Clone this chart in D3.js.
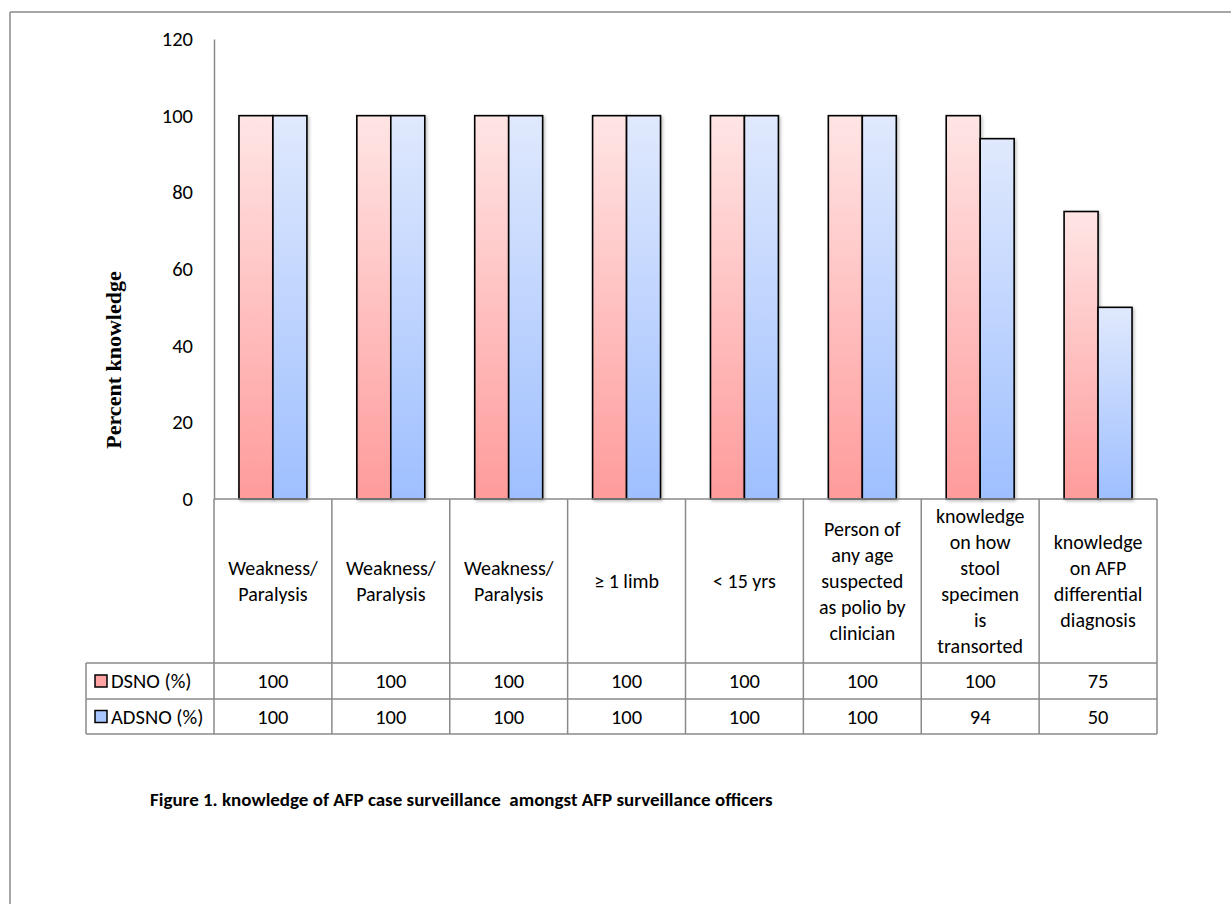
<!DOCTYPE html>
<html>
<head>
<meta charset="utf-8">
<script src="https://cdn.jsdelivr.net/npm/d3@7"></script>
<style>
  html, body { margin: 0; padding: 0; background: #fff; }
  svg { display: block; }
</style>
</head>
<body>
<svg id="chart" width="1231" height="904"></svg>
<script>
// ---- data ----
const categories = [
  ["Weakness/", "Paralysis"],
  ["Weakness/", "Paralysis"],
  ["Weakness/", "Paralysis"],
  ["\u2265 1 limb"],
  ["< 15 yrs"],
  ["Person of", "any age", "suspected", "as polio by", "clinician"],
  ["knowledge", "on how", "stool", "specimen", "is", "transorted"],
  ["knowledge", "on AFP", "differential", "diagnosis"]
];
const seriesNames = ["DSNO (%)", "ADSNO (%)"];
const dsno  = [100, 100, 100, 100, 100, 100, 100, 75];
const adsno = [100, 100, 100, 100, 100, 100, 94, 50];
const yTicks = [0, 20, 40, 60, 80, 100, 120];
const yTitle = "Percent knowledge";
const caption = "Figure 1. knowledge of AFP case surveillance\u00a0 amongst AFP surveillance officers";

// ---- layout ----
const svg = d3.select("#chart");
const plotLeft = 214, plotRight = 1157, plotTop = 39, plotBottom = 499;
const headerBottom = 663, row1Bottom = 699, row2Bottom = 734, tableLeft = 86;
const font = "Carlito, Lato, 'Open Sans', sans-serif";
const gridColor = "#8a8a8a";

const seriesData = [dsno, adsno];
const idx = d3.range(categories.length);

const x0 = d3.scaleBand().domain(idx).range([plotLeft, plotRight]).paddingInner(0).paddingOuter(0);
const x1 = d3.scaleBand().domain([0, 1]).range([0, x0.bandwidth()]).paddingInner(0).paddingOuter(0.735);
const y = d3.scaleLinear().domain([0, 120]).range([plotBottom, plotTop]);

// gradients & shadow
const defs = svg.append("defs");
const grads = [
  { id: "gRed", top: "#ffe5e5", bottom: "#ff9b9b" },
  { id: "gBlue", top: "#e0e9fd", bottom: "#9ebfff" }
];
grads.forEach(g => {
  const lg = defs.append("linearGradient").attr("id", g.id)
    .attr("x1", 0).attr("y1", 0).attr("x2", 0).attr("y2", 1);
  lg.append("stop").attr("offset", "0%").attr("stop-color", g.top);
  lg.append("stop").attr("offset", "100%").attr("stop-color", g.bottom);
});
const f = defs.append("filter").attr("id", "shadow").attr("x", "-20%").attr("y", "-5%").attr("width", "150%").attr("height", "115%");
f.append("feDropShadow").attr("dx", 1.5).attr("dy", 1.5).attr("stdDeviation", 1.5)
  .attr("flood-color", "#000").attr("flood-opacity", 0.25);

// outer frame (clipped at right/bottom)
svg.append("line").attr("x1", 10).attr("y1", 12).attr("x2", 1231).attr("y2", 12)
  .attr("stroke", gridColor).attr("stroke-width", 1.5);
svg.append("line").attr("x1", 10).attr("y1", 12).attr("x2", 10).attr("y2", 904)
  .attr("stroke", gridColor).attr("stroke-width", 1.5);

// y axis
const yAxis = d3.axisLeft(y).tickValues(yTicks).tickSize(0).tickPadding(21);
const gy = svg.append("g").attr("transform", `translate(${plotLeft},0)`).call(yAxis);
gy.select(".domain").attr("stroke", gridColor).attr("stroke-width", 1.5);
gy.selectAll("text").attr("font-family", font).attr("font-size", 20.5).attr("fill", "#000");

// y title
svg.append("text")
  .attr("transform", `translate(121,360) rotate(-90)`)
  .attr("text-anchor", "middle")
  .attr("font-family", "'Liberation Serif', 'Times New Roman', serif")
  .attr("font-weight", "bold").attr("font-size", 22)
  .attr("fill", "#000")
  .text(yTitle);

// bars
const fills = ["url(#gRed)", "url(#gBlue)"];
seriesData.forEach((vals, s) => {
  svg.append("g").selectAll("rect").data(vals).join("rect")
    .attr("x", (d, i) => x0(i) + x1(s))
    .attr("y", d => y(d))
    .attr("width", x1.bandwidth())
    .attr("height", d => y(0) - y(d))
    .attr("fill", fills[s])
    .attr("stroke", "#000").attr("stroke-width", 1.6)
    .attr("filter", "url(#shadow)");
});

// data table
const tg = svg.append("g").attr("stroke", gridColor).attr("stroke-width", 1.5);
tg.append("line").attr("x1", plotLeft).attr("x2", plotRight).attr("y1", plotBottom).attr("y2", plotBottom);
[headerBottom, row1Bottom, row2Bottom].forEach(yy =>
  tg.append("line").attr("x1", tableLeft).attr("x2", plotRight).attr("y1", yy).attr("y2", yy));
tg.append("line").attr("x1", tableLeft).attr("x2", tableLeft).attr("y1", headerBottom).attr("y2", row2Bottom);
idx.concat([categories.length]).forEach(i => {
  const xx = i < categories.length ? x0(i) : plotRight;
  tg.append("line").attr("x1", xx).attr("x2", xx).attr("y1", plotBottom).attr("y2", row2Bottom);
});

// header labels
const lineH = 26;
const headerMid = (plotBottom + headerBottom) / 2;
categories.forEach((lines, i) => {
  const cx = x0(i) + x0.bandwidth() / 2;
  const t = svg.append("text").attr("text-anchor", "middle")
    .attr("font-family", font).attr("font-size", 20).attr("fill", "#000");
  lines.forEach((ln, k) => {
    t.append("tspan").attr("x", cx)
      .attr("y", headerMid + (k - (lines.length - 1) / 2) * lineH)
      .attr("dy", "0.35em").text(ln);
  });
});

// values rows
const rowMids = [(headerBottom + row1Bottom) / 2, (row1Bottom + row2Bottom) / 2];
const keyFill = ["#ffa3a3", "#a9c6ff"];
seriesData.forEach((vals, s) => {
  svg.append("g").selectAll("text").data(vals).join("text")
    .attr("x", (d, i) => x0(i) + x0.bandwidth() / 2)
    .attr("y", rowMids[s]).attr("dy", "0.35em")
    .attr("text-anchor", "middle")
    .attr("font-family", font).attr("font-size", 20.5).attr("fill", "#000")
    .text(d => d);
  svg.append("rect").attr("x", 95).attr("y", rowMids[s] - 6).attr("width", 12).attr("height", 12)
    .attr("fill", keyFill[s]).attr("stroke", "#000").attr("stroke-width", 1.5);
  svg.append("text").attr("x", 111).attr("y", rowMids[s]).attr("dy", "0.35em")
    .attr("font-family", font).attr("font-size", 20.5).attr("fill", "#000")
    .text(seriesNames[s]);
});

// caption
svg.append("text").attr("x", 150).attr("y", 806)
  .attr("font-family", font).attr("font-weight", "bold").attr("font-size", 19)
  .attr("fill", "#000").attr("xml:space", "preserve")
  .text(caption);
</script>
</body>
</html>
